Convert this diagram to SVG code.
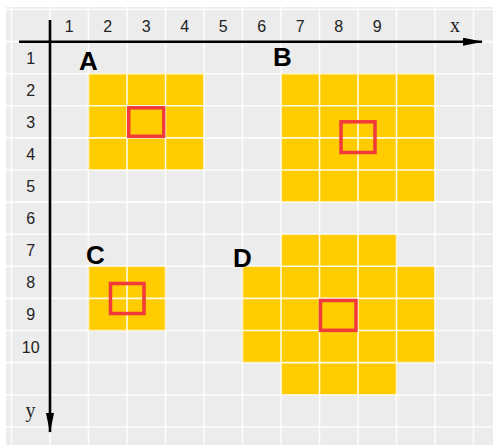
<svg xmlns="http://www.w3.org/2000/svg" width="493" height="445" viewBox="0 0 493 445">
<defs>
<style>
.bg{fill:#ececec}
.cell{fill:#ffcc00}
.grid line{stroke:#ffffff;stroke-width:1.6;opacity:0.9}
.focus{fill:none;stroke:#f23a3a;stroke-width:3.5}
.num{font-family:"Liberation Sans",Arial,sans-serif;font-size:16px;fill:#222;text-anchor:middle}
.ax{font-family:"Liberation Serif","Times New Roman",serif;font-size:20px;fill:#222;text-anchor:middle}
.lbl{font-family:"Liberation Sans",Arial,sans-serif;font-size:26px;font-weight:bold;fill:#000}
.axis{stroke:#000;stroke-width:2.6;fill:none}
</style>
<marker id="arr" viewBox="0 0 20 8" refX="19" refY="4" markerWidth="20" markerHeight="8" markerUnits="userSpaceOnUse" orient="auto">
<path d="M0,0 L20,4 L0,8 Z" fill="#000"/>
</marker>
<g id="gridlines" class="grid">
<line x1="11.5" y1="7" x2="11.5" y2="445"/>
<line x1="50" y1="7" x2="50" y2="445"/>
<line x1="88.5" y1="7" x2="88.5" y2="445"/>
<line x1="127" y1="7" x2="127" y2="445"/>
<line x1="165.5" y1="7" x2="165.5" y2="445"/>
<line x1="204" y1="7" x2="204" y2="445"/>
<line x1="242.5" y1="7" x2="242.5" y2="445"/>
<line x1="281" y1="7" x2="281" y2="445"/>
<line x1="319.5" y1="7" x2="319.5" y2="445"/>
<line x1="358" y1="7" x2="358" y2="445"/>
<line x1="396.5" y1="7" x2="396.5" y2="445"/>
<line x1="435" y1="7" x2="435" y2="445"/>
<line x1="473.5" y1="7" x2="473.5" y2="445"/>
<line x1="6" y1="9.5" x2="493" y2="9.5"/>
<line x1="6" y1="41.6" x2="493" y2="41.6"/>
<line x1="6" y1="73.7" x2="493" y2="73.7"/>
<line x1="6" y1="105.8" x2="493" y2="105.8"/>
<line x1="6" y1="137.9" x2="493" y2="137.9"/>
<line x1="6" y1="170" x2="493" y2="170"/>
<line x1="6" y1="202.1" x2="493" y2="202.1"/>
<line x1="6" y1="234.2" x2="493" y2="234.2"/>
<line x1="6" y1="266.3" x2="493" y2="266.3"/>
<line x1="6" y1="298.4" x2="493" y2="298.4"/>
<line x1="6" y1="330.5" x2="493" y2="330.5"/>
<line x1="6" y1="362.6" x2="493" y2="362.6"/>
<line x1="6" y1="394.7" x2="493" y2="394.7"/>
<line x1="6" y1="426.8" x2="493" y2="426.8"/>
</g>
<clipPath id="clipA"><rect x="88.5" y="73.7" width="115.5" height="96.3"/></clipPath>
<clipPath id="clipB"><rect x="281" y="73.7" width="154" height="128.4"/></clipPath>
<clipPath id="clipC"><rect x="88.5" y="266.3" width="77" height="64.2"/></clipPath>
<clipPath id="clipD"><path d="M281,234.2 H396.5 V266.3 H435 V362.6 H396.5 V394.7 H281 V362.6 H242.5 V266.3 H281 Z"/></clipPath>
</defs>
<rect class="bg" x="6" y="7" width="487" height="438"/>
<use href="#gridlines"/>

<g id="A">
<rect class="cell" x="88.5" y="73.7" width="115.5" height="96.3"/>
<use href="#gridlines" clip-path="url(#clipA)"/>
<rect class="focus" x="128.7" y="107.8" width="35" height="28.5"/>
<text class="lbl" x="79" y="69.5">A</text>
</g>
<g id="B">
<rect class="cell" x="281" y="73.7" width="154" height="128.4"/>
<use href="#gridlines" clip-path="url(#clipB)"/>
<rect class="focus" x="341" y="121.8" width="34" height="30.7"/>
<text class="lbl" x="273" y="66">B</text>
</g>
<g id="C">
<rect class="cell" x="88.5" y="266.3" width="77" height="64.2"/>
<use href="#gridlines" clip-path="url(#clipC)"/>
<rect class="focus" x="110.5" y="283.5" width="33.5" height="30"/>
<text class="lbl" x="86" y="263.5">C</text>
</g>
<g id="D">
<path class="cell" d="M281,234.2 H396.5 V266.3 H435 V362.6 H396.5 V394.7 H281 V362.6 H242.5 V266.3 H281 Z"/>
<use href="#gridlines" clip-path="url(#clipD)"/>
<rect class="focus" x="320.5" y="300.5" width="35.5" height="29.8"/>
<text class="lbl" x="233" y="266.7">D</text>
</g>

<g id="connectors">
<line class="axis" x1="19" y1="41.7" x2="482" y2="41.7" marker-end="url(#arr)"/>
<line class="axis" x1="50" y1="20" x2="50" y2="432" marker-end="url(#arr)"/>
</g>

<g id="labels">
<text class="num" x="69.2" y="31.5">1</text>
<text class="num" x="107.7" y="31.5">2</text>
<text class="num" x="146.2" y="31.5">3</text>
<text class="num" x="184.7" y="31.5">4</text>
<text class="num" x="223.2" y="31.5">5</text>
<text class="num" x="261.7" y="31.5">6</text>
<text class="num" x="300.2" y="31.5">7</text>
<text class="num" x="338.7" y="31.5">8</text>
<text class="num" x="377.2" y="31.5">9</text>
<text class="ax" x="455" y="32">x</text>
<text class="num" x="30.7" y="63.6">1</text>
<text class="num" x="30.7" y="95.7">2</text>
<text class="num" x="30.7" y="127.8">3</text>
<text class="num" x="30.7" y="159.9">4</text>
<text class="num" x="30.7" y="192">5</text>
<text class="num" x="30.7" y="224.1">6</text>
<text class="num" x="30.7" y="256.2">7</text>
<text class="num" x="30.7" y="288.3">8</text>
<text class="num" x="30.7" y="320.4">9</text>
<text class="num" x="30.7" y="352.5">10</text>
<text class="ax" x="30.5" y="417">y</text>
</g>
</svg>
